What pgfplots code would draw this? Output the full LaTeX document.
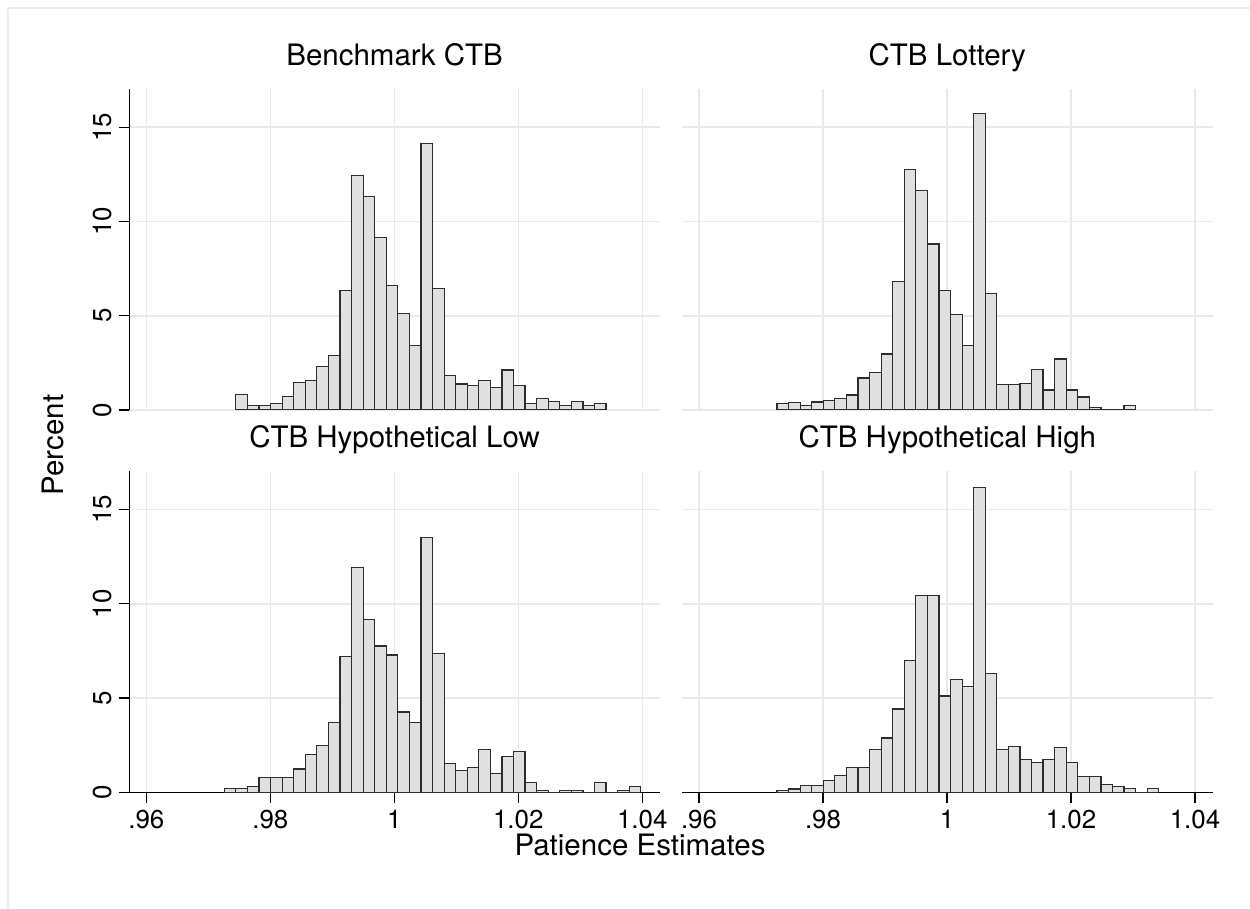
\documentclass[border=0pt]{standalone}
\usepackage{pgfplots}
\pgfplotsset{compat=1.18}
\usepackage{pgfplotstable}
\usepackage{fontspec}
\setmainfont{TeX Gyre Heros}
\definecolor{barfill}{RGB}{224,224,224}
\definecolor{bardraw}{RGB}{45,45,45}
\definecolor{gridc}{RGB}{233,233,233}
\definecolor{framec}{RGB}{236,236,236}

% Benchmark CTB
\pgfplotstableread{
x y
0.974446 0.81
0.976312 0.23
0.978178 0.23
0.980044 0.35
0.98191 0.73
0.983776 1.47
0.985642 1.56
0.987508 2.32
0.989374 2.88
0.99124 6.35
0.993106 12.44
0.994972 11.32
0.996838 9.16
0.998704 6.62
1.00057 5.13
1.002436 3.43
1.004302 14.15
1.006168 6.44
1.008034 1.84
1.0099 1.38
1.011766 1.29
1.013632 1.56
1.015498 1.19
1.017364 2.12
1.01923 1.31
1.021096 0.35
1.022962 0.62
1.024828 0.44
1.026694 0.23
1.02856 0.44
1.030426 0.23
1.032292 0.35
1.034158 0
}\tl

% CTB Lottery
\pgfplotstableread{
x y
0.97258 0.34
0.974446 0.41
0.976312 0.23
0.978178 0.42
0.980044 0.51
0.98191 0.60
0.983776 0.80
0.985642 1.70
0.987508 1.98
0.989374 2.97
0.99124 6.81
0.993106 12.74
0.994972 11.64
0.996838 8.81
0.998704 6.33
1.00057 5.06
1.002436 3.43
1.004302 15.74
1.006168 6.16
1.008034 1.34
1.0099 1.34
1.011766 1.42
1.013632 2.16
1.015498 1.06
1.017364 2.71
1.01923 1.06
1.021096 0.69
1.022962 0.14
1.024828 0
1.026694 0
1.02856 0.25
1.030426 0
}\tr

% CTB Hypothetical Low
\pgfplotstableread{
x y
0.97258 0.21
0.974446 0.21
0.976312 0.32
0.978178 0.78
0.980044 0.78
0.98191 0.78
0.983776 1.24
0.985642 2.02
0.987508 2.49
0.989374 3.71
0.99124 7.19
0.993106 11.91
0.994972 9.16
0.996838 7.76
0.998704 7.28
1.00057 4.26
1.002436 3.71
1.004302 13.51
1.006168 7.38
1.008034 1.54
1.0099 1.17
1.011766 1.33
1.013632 2.29
1.015498 0.98
1.017364 1.92
1.01923 2.18
1.021096 0.50
1.022962 0.11
1.024828 0
1.026694 0.11
1.02856 0.11
1.030426 0
1.032292 0.50
1.034158 0
1.036024 0.11
1.03789 0.32
1.039756 0
}\bl

% CTB Hypothetical High
\pgfplotstableread{
x y
0.97258 0.11
0.974446 0.18
0.976312 0.37
0.978178 0.37
0.980044 0.62
0.98191 0.89
0.983776 1.31
0.985642 1.31
0.987508 2.25
0.989374 2.88
0.99124 4.42
0.993106 7.01
0.994972 10.46
0.996838 10.46
0.998704 5.11
1.00057 5.98
1.002436 5.63
1.004302 16.15
1.006168 6.32
1.008034 2.25
1.0099 2.45
1.011766 1.76
1.013632 1.58
1.015498 1.76
1.017364 2.36
1.01923 1.58
1.021096 0.83
1.022962 0.83
1.024828 0.42
1.026694 0.32
1.02856 0.21
1.030426 0
1.032292 0.21
1.034158 0
}\br

\newcommand{\ttlfont}{\fontsize{14.8}{17}\selectfont}
\newcommand{\tickfont}{\fontsize{13}{15}\selectfont}

\pgfplotsset{
  panel/.style={
    scale only axis, width=265.3bp, height=160.5bp, anchor=south west,
    xmin=0.957258, xmax=1.042838, ymin=0, ymax=17.03,
    xtick={0.96,0.98,1,1.02,1.04}, xticklabels={.96,.98,1,1.02,1.04},
    ytick={0,5,10,15}, yticklabels={0,5,10,15},
    /pgf/number format/assume math mode=true,
    grid=major, major grid style={line width=0.8bp, color=gridc},
    axis lines*=left, axis line style={line width=0.6bp, black},
    tick align=outside, major tick length=5.3bp,
    tick style={line width=0.6bp, black},
    tick label style={font=\tickfont},
    yticklabel style={rotate=90, anchor=south},
    title style={font=\ttlfont, at={(0.5,1)}, anchor=base, yshift=6bp},
  },
  noxaxis/.style={x axis line style={draw=none}, xticklabels={,,,,}, x tick style={draw=none}},
  noyaxis/.style={y axis line style={draw=none}, yticklabels={,,,}, y tick style={draw=none}},
  bars/.style={ybar interval, fill=barfill, draw=bardraw, line width=0.6bp},
}

\begin{document}
\begin{tikzpicture}
\useasboundingbox (0,0) rectangle (625bp,454.5bp);
\draw[framec, line width=1bp] (4bp,0) -- (4bp,450.5bp) -- (625bp,450.5bp);

\begin{axis}[panel, noxaxis, at={(64.65bp,249.5bp)}, title={Benchmark CTB}]
\addplot[bars] table {\tl};
\end{axis}

\begin{axis}[panel, noxaxis, noyaxis, at={(341bp,249.5bp)}, title={CTB Lottery}]
\addplot[bars] table {\tr};
\end{axis}

\begin{axis}[panel, at={(64.65bp,58.35bp)}, title={CTB Hypothetical Low}]
\addplot[bars] table {\bl};
\end{axis}

\begin{axis}[panel, noyaxis, at={(341bp,58.35bp)}, title={CTB Hypothetical High}]
\addplot[bars] table {\br};
\end{axis}

\node[rotate=90, anchor=base, font=\ttlfont] at (31.5bp,232bp) {Percent};
\node[anchor=base, font=\ttlfont] at (320bp,27bp) {Patience Estimates};
\end{tikzpicture}
\end{document}
